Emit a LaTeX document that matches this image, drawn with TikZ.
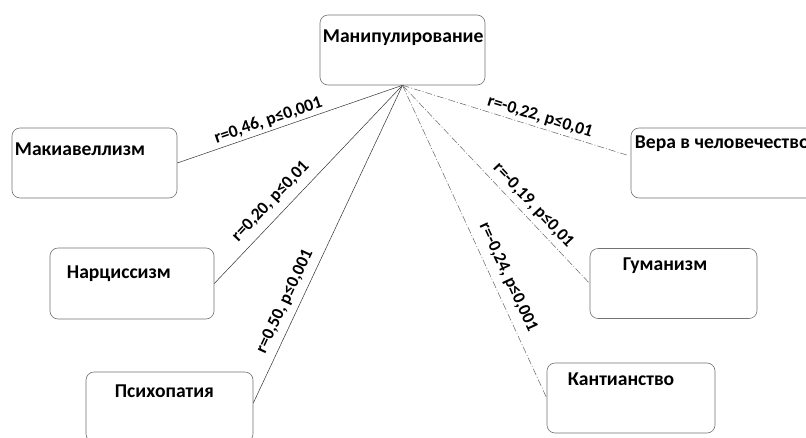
\documentclass[tikz,border=0pt]{standalone}
\usepackage{fontspec}
\setmainfont{Carlito}
\usetikzlibrary{positioning}

\tikzset{
  box/.style={draw=black!55, line width=0.6pt, rounded corners=8pt,
              minimum width=165pt, minimum height=70pt},
  boxtext/.style={font=\fontsize{19.6}{22}\selectfont\bfseries, inner sep=0pt, anchor=base west},
  corr/.style={font=\fontsize{17.5}{19}\selectfont\bfseries, sloped, inner sep=1pt},
  poslink/.style={draw=black!80, line width=0.5pt},
  neglink/.style={draw=black!60, line width=0.5pt, dash pattern=on 7pt off 2pt on 1pt off 2pt},
}

\begin{document}
\begin{tikzpicture}[x=1pt, y=-1pt]
  \clip (0,0) rectangle (806,437);
  \fill[white] (0,0) rectangle (806,437);

  % boxes
  \node [box] (man) at (402.5,50) {};
  \node [box] (mak) at (94.5,163) {};
  \node [box, minimum width=164pt, minimum height=71pt] (nar) at (132,283.5) {};
  \node [box, minimum width=167pt] (psy) at (169.5,407) {};
  \node [box, minimum width=184pt] (vera) at (723,163) {};
  \node [box, minimum width=167pt] (gum) at (673.5,283.5) {};
  \node [box, minimum width=168pt] (kant) at (631,398) {};

  % texts
  \node [boxtext] (mantext) at ([shift={(3pt,-28pt)}]man.north west) {Манипулирование};
  \node [boxtext] (maktext) at ([shift={(3pt,-28pt)}]mak.north west) {Макиавеллизм};
  \node [boxtext] (nartext) at ([shift={(17pt,-31pt)}]nar.north west) {Нарциссизм};
  \node [boxtext] (psytext) at ([shift={(29pt,-26pt)}]psy.north west) {Психопатия};
  \node [boxtext] (veratext) at ([shift={(4pt,-21pt)}]vera.north west) {Вера в человечество};
  \node [boxtext] (gumtext) at ([shift={(33pt,-22pt)}]gum.north west) {Гуманизм};
  \node [boxtext] (kanttext) at ([shift={(21pt,-23pt)}]kant.north west) {Кантианство};

  % positive links
  \draw [poslink] (mak.east) -- node [corr, above=2pt, pos=0.42] {r=0,46, p≤0,001} (man.south);
  \draw [poslink] (nar.east) -- node [corr, above=7pt, pos=0.36] {r=0,20, p≤0,01} (man.south);
  \draw [poslink] ([yshift=4pt]psy.east) -- node [corr, above=6pt, pos=0.30] {r=0,50, p≤0,001} (man.south);

  % negative links
  \draw [neglink] (man.south) -- node [corr, above=2pt, pos=0.60] {r=-0,22, p≤0,01} ([shift={(-4pt,8pt)}]vera.west);
  \draw [neglink] (man.south) -- node [corr, above=4pt, pos=0.65] {r=-0,19, p≤0,01} (gum.west);
  \draw [neglink] (man.south) -- node [corr, above=7pt, pos=0.635] {r=-0,24, p≤0,001} (kant.west);
\end{tikzpicture}
\end{document}
